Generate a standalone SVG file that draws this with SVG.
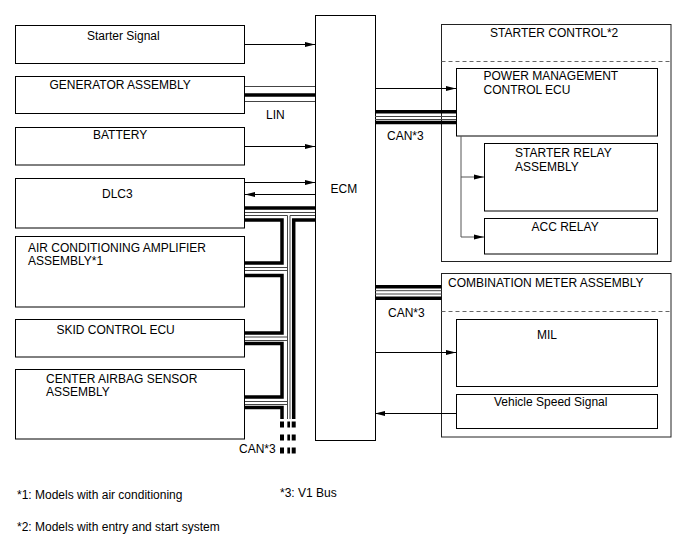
<svg xmlns="http://www.w3.org/2000/svg" width="688" height="560" viewBox="0 0 688 560">
<defs>
<marker id="ah" markerUnits="userSpaceOnUse" markerWidth="10" markerHeight="6" refX="10" refY="3" orient="auto"><path d="M0,0.5 L10,3 L0,5.5 z" fill="#000"/></marker>
<style>
.box{fill:#fff;stroke:#000;stroke-width:1}
.grp{fill:#fff;stroke:#222;stroke-width:1}
.t{font-family:"Liberation Sans",Arial,sans-serif;font-size:12px;fill:#000}
.ln{fill:none;stroke:#000;stroke-width:1}
.lg{fill:none;stroke:#555;stroke-width:1}
.thk{fill:none;stroke:#000;stroke-width:3.5}
.thn{fill:none;stroke:#444;stroke-width:1}
.dash{fill:none;stroke:#666;stroke-width:1;stroke-dasharray:4 3}
.bd{fill:none;stroke:#000;stroke-dasharray:6 7}
</style>
</defs>
<rect width="688" height="560" fill="#fff"/>

<g id="starter-signal"><rect class="box" x="15.5" y="25.5" width="229" height="38"/><text class="t" x="87" y="40">Starter Signal</text></g>
<g id="generator-assembly"><rect class="box" x="15.5" y="76.5" width="229" height="37"/><text class="t" x="49.5" y="89">GENERATOR ASSEMBLY</text></g>
<g id="battery"><rect class="box" x="15.5" y="127.5" width="229" height="37.5"/><text class="t" x="93" y="139">BATTERY</text></g>
<g id="dlc3"><rect class="box" x="15.5" y="178.5" width="229" height="49.5"/><text class="t" x="102" y="198">DLC3</text></g>
<g id="air-conditioning-amplifier"><rect class="box" x="15.5" y="236.5" width="229" height="70.5"/><text class="t" x="28" y="251.5">AIR CONDITIONING AMPLIFIER</text><text class="t" x="28" y="265">ASSEMBLY*1</text></g>
<g id="skid-control-ecu"><rect class="box" x="15.5" y="319.5" width="229" height="37.5"/><text class="t" x="56.5" y="334">SKID CONTROL ECU</text></g>
<g id="center-airbag-sensor"><rect class="box" x="15.5" y="369.5" width="229" height="69.5"/><text class="t" x="46" y="383">CENTER AIRBAG SENSOR</text><text class="t" x="46" y="396">ASSEMBLY</text></g>

<g id="ecm"><rect class="box" x="315.5" y="15.5" width="60" height="425"/><text class="t" x="330.5" y="193">ECM</text></g>

<g id="starter-control"><rect class="grp" x="441.5" y="24.5" width="229.5" height="237"/><line class="dash" x1="441.5" y1="61.5" x2="671" y2="61.5"/><text class="t" x="490" y="37">STARTER CONTROL*2</text></g>
<g id="power-management-control-ecu"><rect class="box" x="456.5" y="68.5" width="201" height="67.5"/><text class="t" x="483.5" y="80">POWER MANAGEMENT</text><text class="t" x="483.5" y="94">CONTROL ECU</text></g>
<g id="starter-relay-assembly"><rect class="box" x="484.5" y="143.5" width="173" height="67.5"/><text class="t" x="515" y="157">STARTER RELAY</text><text class="t" x="515" y="171">ASSEMBLY</text></g>
<g id="acc-relay"><rect class="box" x="484.5" y="218.5" width="173" height="35.5"/><text class="t" x="531.5" y="231">ACC RELAY</text></g>

<g id="combination-meter-assembly"><rect class="grp" x="441.5" y="273.5" width="229.5" height="163.5"/><line class="dash" x1="441.5" y1="311.5" x2="671" y2="311.5"/><text class="t" x="448" y="287">COMBINATION METER ASSEMBLY</text></g>
<g id="mil"><rect class="box" x="456.5" y="319.5" width="201" height="67"/><text class="t" x="537" y="339">MIL</text></g>
<g id="vehicle-speed-signal"><rect class="box" x="456.5" y="394.5" width="201" height="34"/><text class="t" x="494" y="406">Vehicle Speed Signal</text></g>

<g id="connectors">
<path class="ln" d="M245,44.5 H315" marker-end="url(#ah)"/>
<path class="ln" d="M245,146.5 H315" marker-end="url(#ah)"/>
<path class="ln" d="M245,182.5 H315" marker-end="url(#ah)"/>
<path class="ln" d="M315,194.5 H245" marker-end="url(#ah)"/>
<path class="ln" d="M375,88.5 H456" marker-end="url(#ah)"/>
<path class="lg" d="M461,136 V237 H484" marker-end="url(#ah)"/>
<path class="lg" d="M461,177 H484" marker-end="url(#ah)"/>
<path class="ln" d="M375,352.5 H456" marker-end="url(#ah)"/>
<path class="ln" d="M456,413.5 H375" marker-end="url(#ah)"/>

<!-- LIN -->
<path class="thn" d="M245,86.5 H315 M245,101.5 H315"/>
<path class="thk" d="M245,95 H315"/>

<!-- CAN to power management -->
<path class="thk" d="M375,111.7 H456 M375,122.5 H456"/>
<path class="thn" d="M375,116.5 H456 M375,119.5 H456"/>

<!-- CAN to combination meter -->
<path class="thk" d="M375,286.7 H441.5 M375,298.3 H441.5"/>
<path class="thn" d="M375,290.7 H441.5 M375,294 H441.5"/>

<!-- left CAN network -->
<path class="thk" d="M245,208 H315"/>
<path class="thn" d="M245,212.5 H315"/>
<path class="thn" d="M245,215.5 H287.5 V419 M315,215.5 H290 V419"/>
<path class="thk" d="M245,220 H282 V263 H245"/>
<path class="thk" d="M315,220 H293.7 V419"/>
<path class="thn" d="M245,267.5 H287.5 M245,270.5 H287.5"/>
<path class="thk" d="M245,275.5 H282 V333 H245"/>
<path class="thn" d="M245,337 H287.5 M245,340.5 H287.5"/>
<path class="thk" d="M245,343.5 H282 V397 H245"/>
<path class="thn" d="M245,401.5 H287.5 M245,404.5 H287.5"/>
<path class="thk" d="M245,407.5 H282 V419"/>
<path class="bd" style="stroke-width:4" d="M282,421.5 V456 M293.7,421.5 V456"/>
<path class="bd" style="stroke-width:2.7" d="M288.7,421.5 V456"/>
</g>

<text class="t" x="266" y="119">LIN</text>
<text class="t" x="387" y="139.5">CAN*3</text>
<text class="t" x="388" y="317">CAN*3</text>
<text class="t" x="239" y="453">CAN*3</text>

<text class="t" x="17" y="499">*1: Models with air conditioning</text>
<text class="t" x="280" y="497">*3: V1 Bus</text>
<text class="t" x="17" y="531">*2: Models with entry and start system</text>
</svg>
